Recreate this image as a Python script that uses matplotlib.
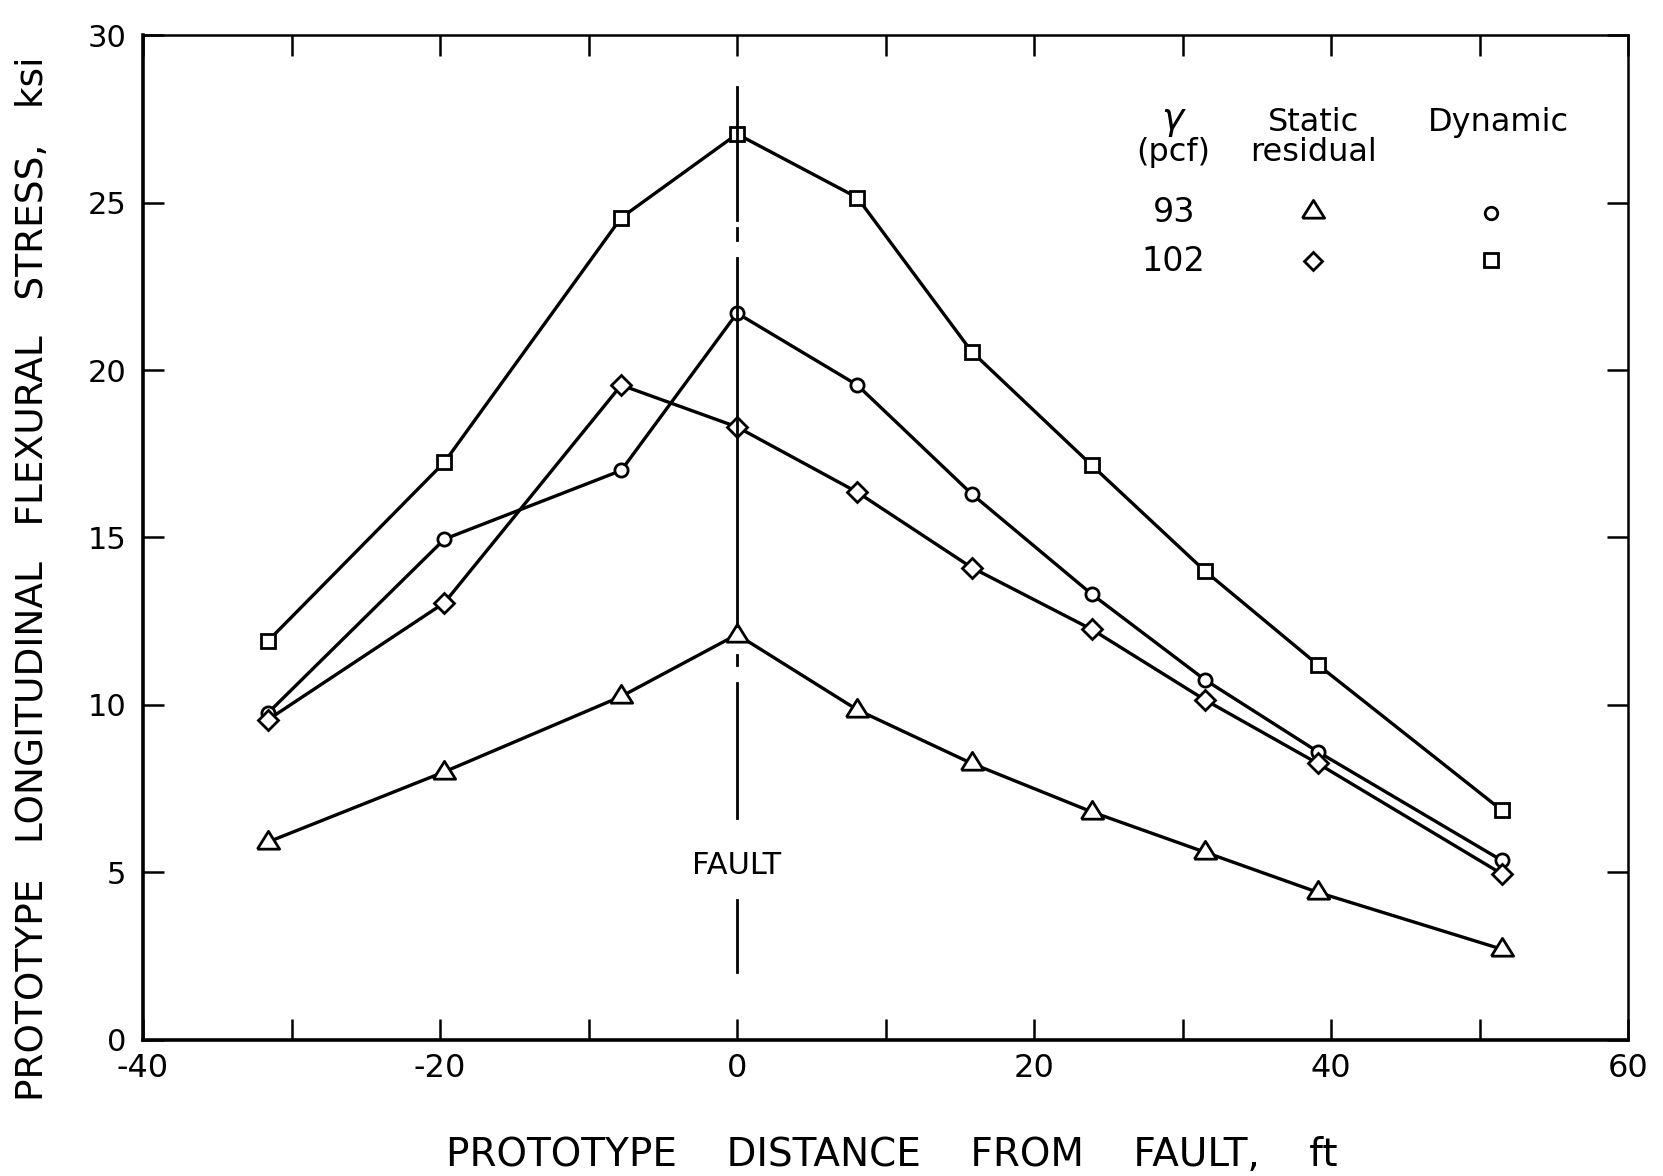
import matplotlib
matplotlib.use("Agg")
import matplotlib.pyplot as plt
from matplotlib.ticker import MultipleLocator

plt.rcParams['font.family'] = ['DejaVu Sans']
plt.rcParams['axes.unicode_minus'] = False

# distance from fault, ft
dist = [-31.6, -19.7, -7.8, 0.0, 8.1, 15.8, 23.9, 31.5, 39.1, 51.5]

# flexural stress, ksi
dyn_102 = [11.9, 17.25, 24.55, 27.05, 25.15, 20.55, 17.15, 14.0, 11.2, 6.85]
dyn_93 = [9.75, 14.95, 17.0, 21.7, 19.55, 16.3, 13.3, 10.75, 8.6, 5.35]
stat_102 = [9.55, 13.05, 19.55, 18.3, 16.35, 14.1, 12.25, 10.15, 8.25, 4.95]
stat_93 = [5.9, 8.0, 10.25, 12.1, 9.85, 8.25, 6.8, 5.6, 4.4, 2.7]

# fault line pieces (dash-dot with a gap for the label)
fault_segs = [(28.45, 24.48), (24.24, 23.88), (23.34, 12.35), (11.5, 11.2),
              (10.66, 6.63), (4.18, 2.03)]

tri = [(-1, -0.6), (1, -0.6), (0, 1.0), (-1, -0.6)]

fig = plt.figure(figsize=(16.63, 11.76), dpi=100)
ax = fig.add_axes([0.086, 0.116, 0.893, 0.854])

mk = dict(color='black', lw=2.4, mfc='white', mec='black', mew=2.0, zorder=3)
ax.plot(dist, dyn_102, marker='s', ms=10.5, **mk)
ax.plot(dist, dyn_93, marker='o', ms=9.5, **mk)
ax.plot(dist, stat_102, marker='D', ms=10, **mk)
ax.plot(dist, stat_93, marker=tri, ms=16, **mk)

for y0, y1 in fault_segs:
    ax.plot([0, 0], [y0, y1], color='black', lw=2.0, zorder=4)
ax.text(0, 5.2, 'FAULT', ha='center', va='center', fontsize=22)

# key
ax.text(29.4, 27.45, r'$\gamma$', ha='center', va='center', fontsize=27)
ax.text(29.4, 26.5, '(pcf)', ha='center', va='center', fontsize=23)
ax.text(38.8, 27.4, 'Static', ha='center', va='center', fontsize=23)
ax.text(38.8, 26.5, 'residual', ha='center', va='center', fontsize=23)
ax.text(51.3, 27.4, 'Dynamic', ha='center', va='center', fontsize=23)
ax.text(29.4, 24.7, '93', ha='center', va='center', fontsize=24)
ax.text(29.4, 23.25, '102', ha='center', va='center', fontsize=24)
kmk = dict(ls='none', mfc='white', mec='black', mew=2.0)
ax.plot([38.8], [24.75], marker=tri, ms=16, **kmk)
ax.plot([50.8], [24.7], marker='o', ms=9, **kmk)
ax.plot([38.8], [23.25], marker='D', ms=9, **kmk)
ax.plot([50.8], [23.3], marker='s', ms=9.5, **kmk)

ax.set_xlim(-40, 60)
ax.set_ylim(0, 30)
ax.xaxis.set_major_locator(MultipleLocator(20))
ax.xaxis.set_minor_locator(MultipleLocator(10))
ax.yaxis.set_major_locator(MultipleLocator(5))
ax.tick_params(which='both', direction='in', length=15, width=1.8,
               top=True, right=True)
ax.tick_params(axis='x', which='major', labelsize=23, pad=10)
ax.tick_params(axis='y', which='major', labelsize=22, pad=12)

for side in ['left', 'bottom']:
    ax.spines[side].set_linewidth(2.6)
for side in ['top', 'right']:
    ax.spines[side].set_linewidth(1.8)

ax.set_xlabel('PROTOTYPE    DISTANCE    FROM    FAULT,    ft', fontsize=28)
ax.set_ylabel('PROTOTYPE   LONGITUDINAL   FLEXURAL   STRESS,   ksi', fontsize=27)
ax.xaxis.set_label_coords(0.504, -0.096)
ax.yaxis.set_label_coords(-0.062, 0.459)

fig.savefig('out.png', dpi=100)
